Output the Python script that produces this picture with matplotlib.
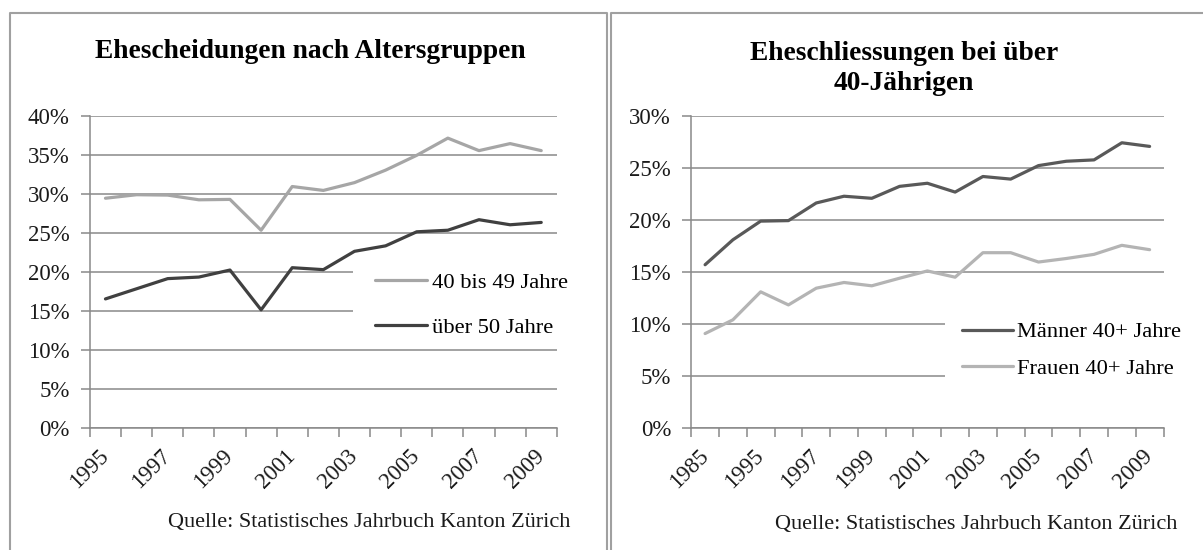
import matplotlib
matplotlib.use("Agg")
import matplotlib.pyplot as plt
import numpy as np
from matplotlib.ticker import PercentFormatter, FixedLocator, MultipleLocator
from matplotlib.patches import Rectangle
from matplotlib.lines import Line2D

# ---------------- data ----------------
left_years = ["1995", "1996", "1997", "1998", "1999", "2000", "2001", "2002",
              "2003", "2004", "2005", "2006", "2007", "2008", "2009"]
left_40_49 = [29.4, 29.85, 29.8, 29.2, 29.25, 25.3, 30.9, 30.4, 31.4, 33.0,
              34.9, 37.1, 35.5, 36.4, 35.5]
left_50plus = [16.5, 17.8, 19.1, 19.3, 20.2, 15.1, 20.5, 20.25, 22.6, 23.3,
               25.1, 25.3, 26.65, 26.0, 26.3]

right_years = ["1985", "1990", "1995", "1996", "1997", "1998", "1999", "2000",
               "2001", "2002", "2003", "2004", "2005", "2006", "2007", "2008", "2009"]
right_maenner = [15.7, 18.1, 19.9, 19.95, 21.65, 22.3, 22.1, 23.25, 23.55, 22.7,
                 24.2, 23.95, 25.25, 25.67, 25.8, 27.45, 27.1]
right_frauen = [9.07, 10.39, 13.09, 11.83, 13.44, 13.99, 13.67, 14.4, 15.1, 14.5,
                16.86, 16.86, 15.96, 16.3, 16.7, 17.57, 17.15]

left_title = "Ehescheidungen nach Altersgruppen"
right_title = "Eheschliessungen bei über\n40-Jährigen"
left_labels = ["40 bis 49 Jahre", "über 50 Jahre"]
right_labels = ["Männer 40+ Jahre", "Frauen 40+ Jahre"]
source = "Quelle: Statistisches Jahrbuch Kanton Zürich"

# ---------------- style ----------------
plt.rcParams['font.family'] = ['Liberation Serif', 'DejaVu Serif']
W, H = 1203, 550
fig = plt.figure(figsize=(W / 100, H / 100), dpi=100)
fig.patch.set_facecolor("white")

GRID = "#898989"
TICK_FS = 16.5
LEG_FS = 16.2
TXT = "#1a1a1a"

def fx(px):
    return px / W

def fy(py):
    return 1 - py / H

def make_axes(x0, x1, ytop, ybot):
    return fig.add_axes([fx(x0), fy(ybot), fx(x1) - fx(x0), (ybot - ytop) / H])

def style_axes(ax, cats, ymax):
    n = len(cats)
    ax.set_xlim(0, n)
    ax.set_ylim(0, ymax)
    ax.yaxis.set_major_locator(MultipleLocator(5))
    ax.yaxis.set_major_formatter(PercentFormatter(decimals=0))
    ax.set_axisbelow(True)
    ax.grid(axis="y", color=GRID, lw=1.1)
    for s in ["top", "right"]:
        ax.spines[s].set_visible(False)
    for s in ["left", "bottom"]:
        ax.spines[s].set_color(GRID)
        ax.spines[s].set_linewidth(1.1)
    ax.tick_params(axis="y", length=6.5, width=1.1, color=GRID, pad=8,
                   labelsize=TICK_FS, labelcolor=TXT)
    # category boundaries as minor ticks, labels at every other category centre
    ax.xaxis.set_minor_locator(FixedLocator(np.arange(n + 1)))
    ax.tick_params(axis="x", which="minor", length=6.5, width=1.1, color=GRID)
    pos = np.arange(0, n, 2) + 0.5
    ax.set_xticks(pos)
    ax.set_xticklabels([cats[i] for i in range(0, n, 2)], rotation=45,
                       ha="right", va="center", rotation_mode="anchor")
    ax.tick_params(axis="x", which="major", length=0, pad=18,
                   labelsize=TICK_FS, labelcolor=TXT)

# ---------------- left chart ----------------
axL = make_axes(89.9, 556.8, 115.5, 427.7)
style_axes(axL, left_years, 40)
xl = np.arange(len(left_years)) + 0.5
axL.plot(xl, left_40_49, color="#a6a6a6", lw=2.3, zorder=3, label=left_labels[0],
         solid_capstyle="round")
axL.plot(xl, left_50plus, color="#404040", lw=2.3, zorder=3, label=left_labels[1],
         solid_capstyle="round")
axL.add_patch(Rectangle((fx(353), fy(320)), fx(557) - fx(353), (320 - 262) / H,
                        transform=fig.transFigure, facecolor="white",
                        edgecolor="none", zorder=1, clip_on=False))
legL = axL.legend(loc="center left", bbox_to_anchor=(fx(375), fy(305)),
                  bbox_transform=fig.transFigure, frameon=False, fontsize=LEG_FS,
                  borderpad=0, borderaxespad=0, handlelength=2.3,
                  handletextpad=0.25, labelspacing=1.05)
fig.text(fx(310.6), fy(52), left_title, ha="center", va="center",
         fontsize=19.8, fontweight="bold", color="black")
fig.text(fx(570), fy(522), source, ha="right", va="center", fontsize=16,
         color=TXT)

# ---------------- right chart ----------------
axR = make_axes(691.2, 1163.5, 116.3, 427.7)
style_axes(axR, right_years, 30)
xr = np.arange(len(right_years)) + 0.5
axR.plot(xr, right_maenner, color="#595959", lw=2.3, zorder=3, label=right_labels[0],
         solid_capstyle="round")
axR.plot(xr, right_frauen, color="#b4b4b4", lw=2.3, zorder=3, label=right_labels[1],
         solid_capstyle="round")
axR.add_patch(Rectangle((fx(945), fy(395)), fx(1164) - fx(945), (395 - 300) / H,
                        transform=fig.transFigure, facecolor="white",
                        edgecolor="none", zorder=1, clip_on=False))
legR = axR.legend(loc="center left", bbox_to_anchor=(fx(961.5), fy(350.5)),
                  bbox_transform=fig.transFigure, frameon=False, fontsize=LEG_FS,
                  borderpad=0, borderaxespad=0, handlelength=2.3,
                  handletextpad=0.15, labelspacing=0.72)
fig.text(fx(903.8), fy(68.5), right_title, ha="center", va="center",
         fontsize=19.8, fontweight="bold", color="black", linespacing=1.3)
fig.text(fx(1177), fy(525), source, ha="right", va="center", fontsize=16,
         color=TXT)

# ---------------- panel frames ----------------
FRAME = "#a0a0a0"
for xs, ys in [([9.6, 9.6, 607, 607], [560, 12.7, 12.7, 560]),
               ([611, 611, 1210], [560, 12.7, 12.7])]:
    fig.add_artist(Line2D([fx(x) for x in xs], [fy(y) for y in ys],
                          transform=fig.transFigure, color=FRAME, lw=1.5))

fig.savefig("out.png", dpi=100)
